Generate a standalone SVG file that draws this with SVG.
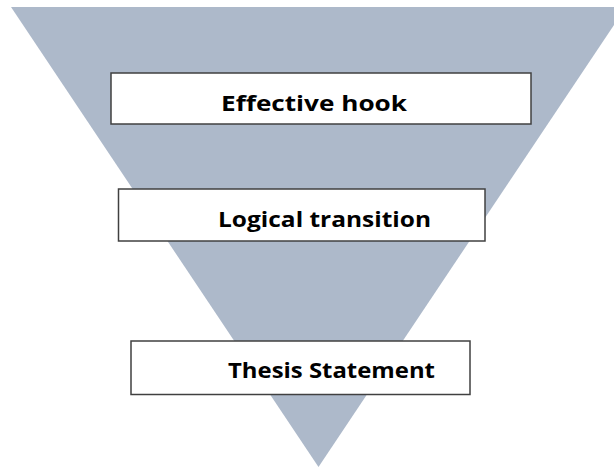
<svg xmlns="http://www.w3.org/2000/svg" width="614" height="468" viewBox="0 0 614 468">
<style>
.box{fill:#ffffff;stroke:#404040;stroke-width:1.5}
.lbl{font-family:"Open Sans","Liberation Sans",sans-serif;font-weight:bold;font-size:21px;fill:#000000}
</style>
<rect width="614" height="468" fill="#ffffff"/>
<g id="funnel">
<polygon points="11,7 626,7 318.5,467" fill="#adb9ca"/>
</g>
<g id="connectors"></g>
<g id="hook">
<rect class="box" x="111" y="73" width="420" height="51"/>
<text class="lbl" x="221" y="111" textLength="186" lengthAdjust="spacingAndGlyphs">Effective hook</text>
</g>
<g id="transition">
<rect class="box" x="118.5" y="189" width="366.5" height="52"/>
<text class="lbl" x="218" y="227" textLength="213" lengthAdjust="spacingAndGlyphs">Logical transition</text>
</g>
<g id="thesis">
<rect class="box" x="131" y="341" width="339" height="53.5"/>
<text class="lbl" x="228" y="378" textLength="207" lengthAdjust="spacingAndGlyphs">Thesis Statement</text>
</g>
</svg>
